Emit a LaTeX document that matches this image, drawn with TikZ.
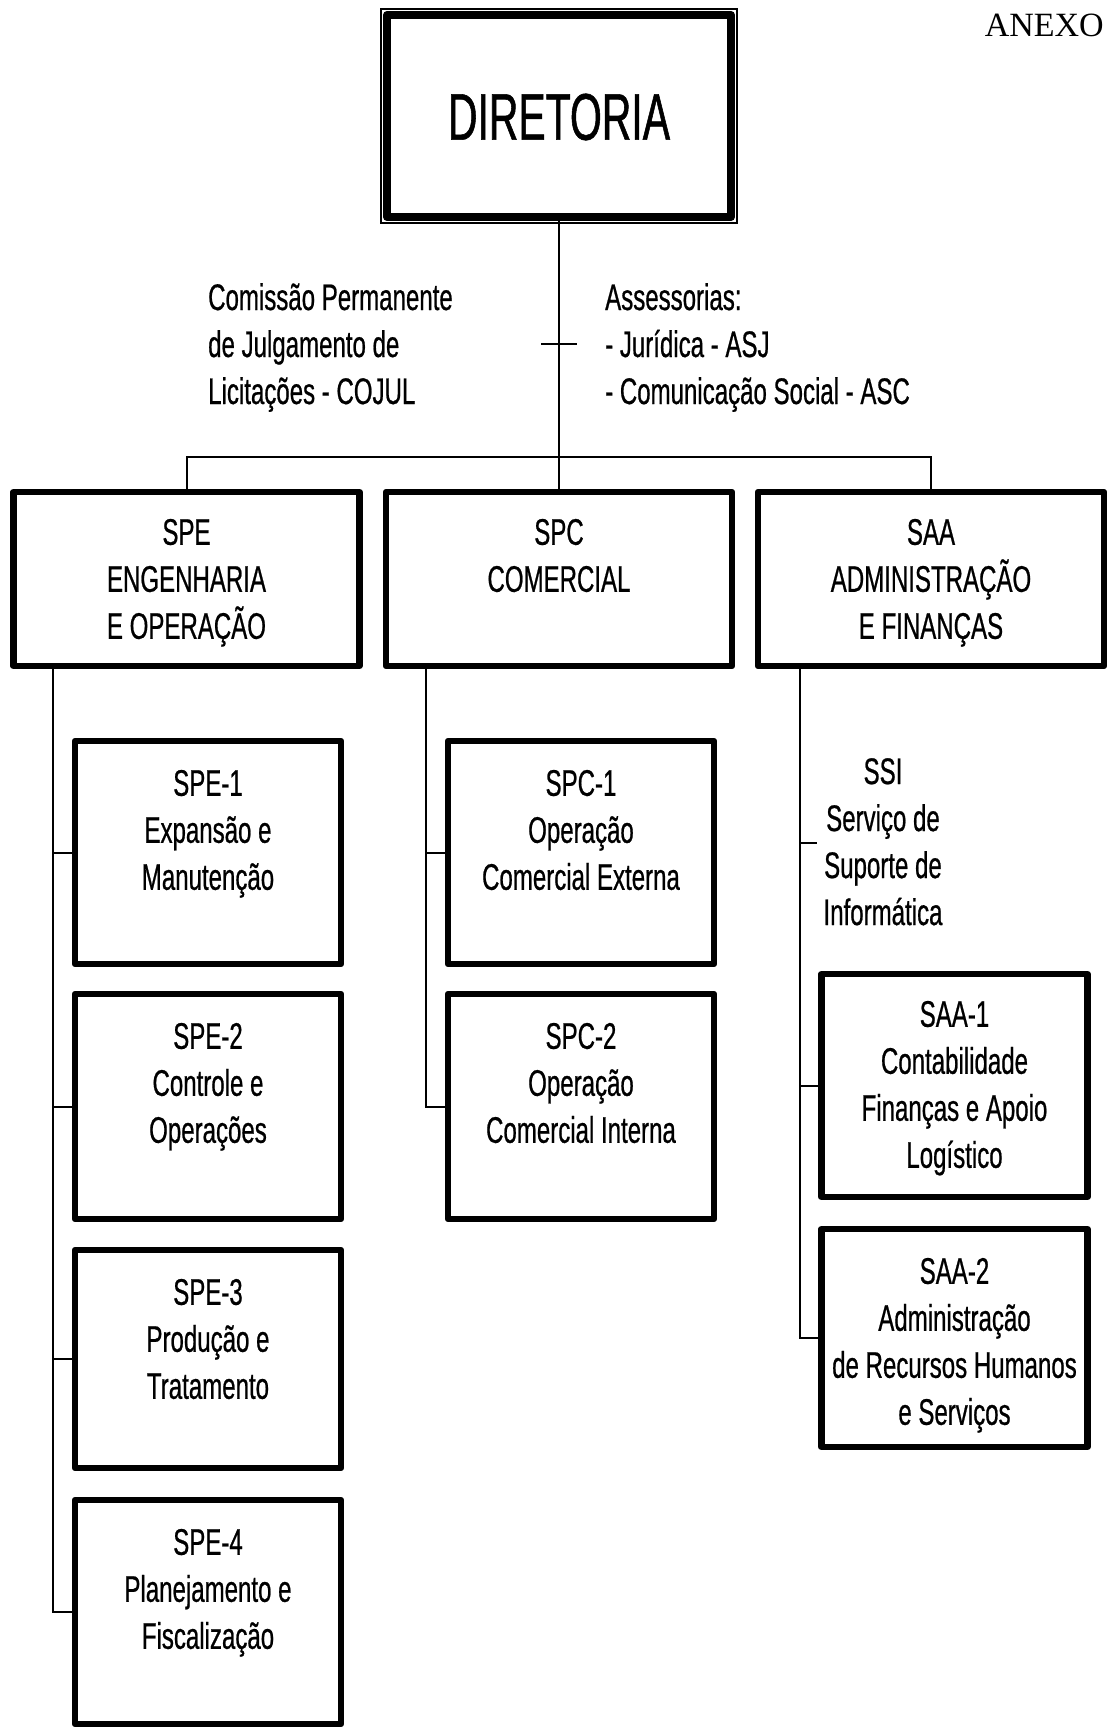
\documentclass[tikz,border=0pt]{standalone}
\usepackage{fontspec}
\setmainfont{Liberation Sans}
\newfontfamily\nfont[FakeStretch=0.65,FakeBold=0.6]{Liberation Sans}
\newfontfamily\dfont[FakeStretch=0.62,FakeBold=0.8]{Liberation Sans}
\newfontfamily\serfont{Liberation Serif}
\begin{document}
\begin{tikzpicture}[x=1bp,y=-1bp,
  box/.style={draw, line width=6.5bp, line join=round, inner sep=0pt},
  l2/.style={box, minimum width=346bp, minimum height=174bp},
  sub/.style={box, minimum width=266bp},
  txt/.style={inner sep=0pt, align=center, anchor=north,
    font=\nfont\fontsize{37bp}{47bp}\selectfont},
  ltxt/.style={txt, align=left, anchor=north west},
  conn/.style={line width=2bp}]
\fill[white] (0,0) rectangle (1108,1731);
\useasboundingbox (0,0) rectangle (1108,1731);

% title
\node[inner sep=0pt, anchor=base east, font=\serfont\fontsize{34bp}{40bp}\selectfont] (anexo) at (1104,36) {ANEXO};

% top box
\node[box, line width=8bp, minimum width=344bp, minimum height=202bp] (dir) at (559,116) {};
\draw[line width=2bp] ([shift={(-2,-2)}]dir.north west) rectangle ([shift={(2,2)}]dir.south east);
\node[inner sep=0pt, font=\dfont\fontsize{66bp}{70bp}\selectfont] (dirt) at ([yshift=-1bp]dir.center) {DIRETORIA};

% staff texts
\node[ltxt] (cojul) at (208,283) {Comissão Permanente\\de Julgamento de\\Licitações - COJUL};
\node[ltxt] (asses) at (605,283) {Assessorias:\\- Jurídica - ASJ\\- Comunicação Social - ASC};

% level 2
\node[l2] (spe) at (186.5,579) {};
\node[l2] (spc) at (559,579) {};
\node[l2] (saa) at (931,579) {};
\node[txt] (spet) at ([yshift=-30bp]spe.north) {SPE\\ENGENHARIA\\E OPERAÇÃO};
\node[txt] (spct) at ([yshift=-30bp]spc.north) {SPC\\COMERCIAL};
\node[txt] (saat) at ([yshift=-30bp]saa.north) {SAA\\ADMINISTRAÇÃO\\E FINANÇAS};

% SPE column
\node[sub, minimum height=223bp] (spe1) at (208,852.5) {};
\node[sub, minimum height=225bp] (spe2) at (208,1106.5) {};
\node[sub, minimum height=218bp] (spe3) at (208,1359) {};
\node[sub, minimum height=224bp] (spe4) at (208,1612) {};
\node[txt] (spe1t) at ([yshift=-32bp]spe1.north) {SPE-1\\Expansão e\\Manutenção};
\node[txt] (spe2t) at ([yshift=-32bp]spe2.north) {SPE-2\\Controle e\\Operações};
\node[txt] (spe3t) at ([yshift=-32bp]spe3.north) {SPE-3\\Produção e\\Tratamento};
\node[txt] (spe4t) at ([yshift=-32bp]spe4.north) {SPE-4\\Planejamento e\\Fiscalização};

% SPC column
\node[sub, minimum height=223bp] (spc1) at (581,852.5) {};
\node[sub, minimum height=225bp] (spc2) at (581,1106.5) {};
\node[txt] (spc1t) at ([yshift=-32bp]spc1.north) {SPC-1\\Operação\\Comercial Externa};
\node[txt] (spc2t) at ([yshift=-32bp]spc2.north) {SPC-2\\Operação\\Comercial Interna};

% SAA column
\node[txt] (ssi) at (883,758) {SSI\\Serviço de\\Suporte de\\Informática};
\node[sub, minimum height=223bp] (saa1) at (954.5,1085.5) {};
\node[sub, minimum height=218bp] (saa2) at (954.5,1338) {};
\node[txt] (saa1t) at ([yshift=-30bp]saa1.north) {SAA-1\\Contabilidade\\Finanças e Apoio\\Logístico};
\node[txt] (saa2t) at ([yshift=-32bp]saa2.north) {SAA-2\\Administração\\de Recursos Humanos\\e Serviços};

% connectors
\coordinate (staff) at (559,344);
\coordinate (bus) at (559,456.7);
\draw[conn] (dir.south) -- (spc.north);
\draw[conn] ([xshift=-18bp]staff) -- ([xshift=18bp]staff);
\draw[conn] (spe.north) |- (bus) -| (saa.north);

\coordinate (speT) at (53,0);
\draw[conn] (spe.south -| speT) |- (spe4.west);
\foreach \n in {1,2,3} \draw[conn] (speT |- spe\n.west) -- (spe\n.west);

\coordinate (spcT) at (426,0);
\draw[conn] (spc.south -| spcT) |- (spc2.west);
\draw[conn] (spcT |- spc1.west) -- (spc1.west);

\coordinate (saaT) at (800,0);
\coordinate (ssitick) at (817,843);
\draw[conn] (saa.south -| saaT) |- (saa2.west);
\draw[conn] (saaT |- saa1.west) -- (saa1.west);
\draw[conn] (saaT |- ssitick) -- (ssitick);
\end{tikzpicture}
\end{document}
